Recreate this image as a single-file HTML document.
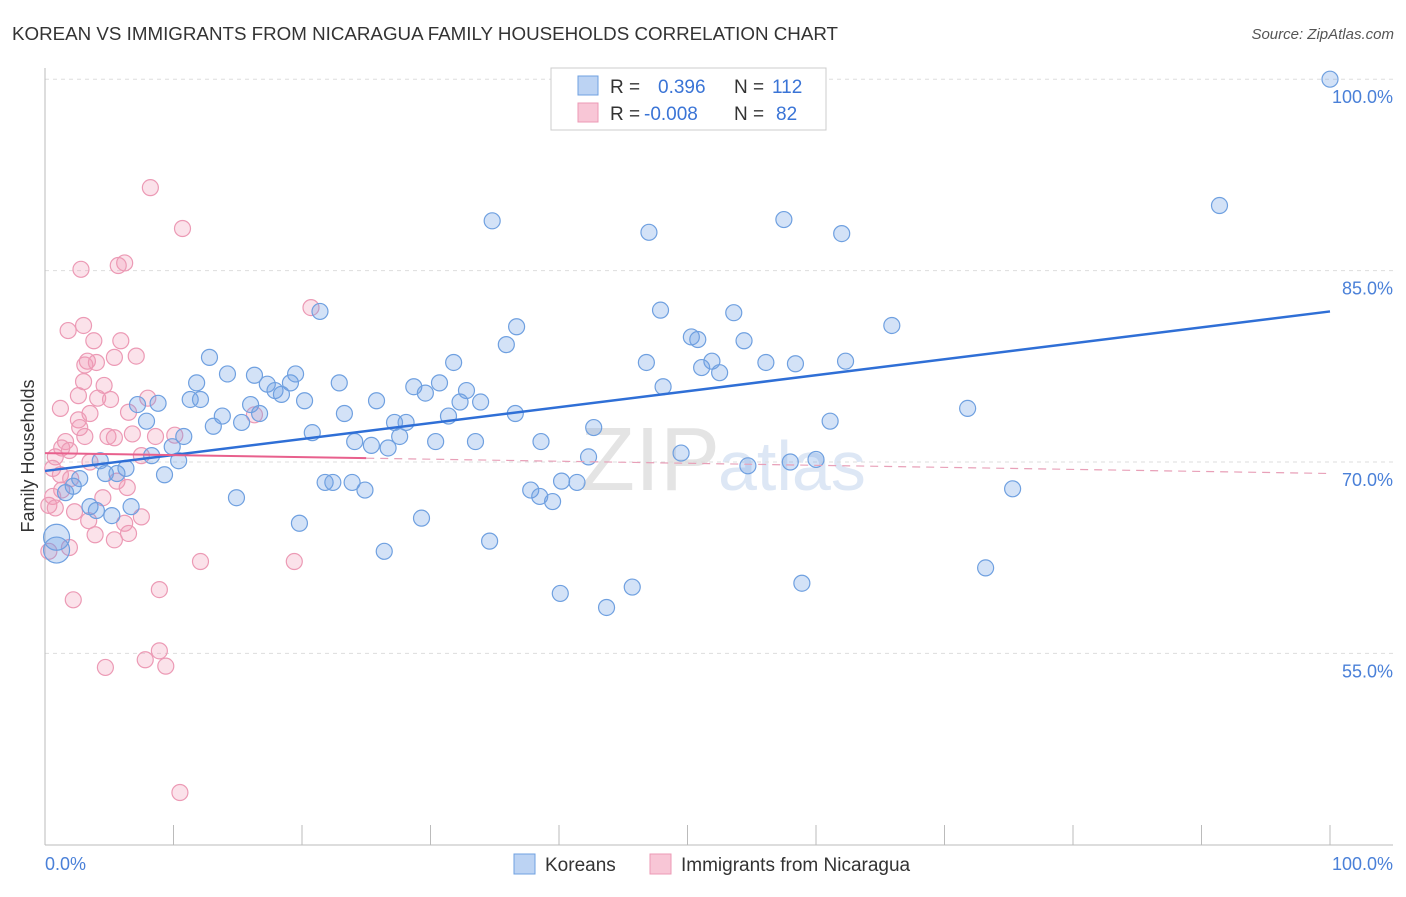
<!DOCTYPE html>
<html><head><meta charset="utf-8"><style>
body{margin:0;background:#fff;font-family:"Liberation Sans",sans-serif;}
svg text{font-family:"Liberation Sans",sans-serif;}
</style></head><body>
<svg width="1406" height="892" viewBox="0 0 1406 892">
<text x="12" y="40" font-size="18" fill="#333" textLength="826" lengthAdjust="spacingAndGlyphs">KOREAN VS IMMIGRANTS FROM NICARAGUA FAMILY HOUSEHOLDS CORRELATION CHART</text>
<text x="1394" y="39" font-size="15" fill="#555" font-style="italic" text-anchor="end">Source: ZipAtlas.com</text>
<text x="580" y="490" font-size="90" fill="#e4e4e4" font-family="Liberation Serif">ZIP</text>
<text x="718" y="490" font-size="70" fill="#dde7f5">atlas</text>
<g id="grid"></g><g id="axes"></g><g id="pts"></g><g id="lines"></g>
<text x="34" y="456" font-size="18" fill="#333" transform="rotate(-90 34 456)" text-anchor="middle">Family Households</text>
<text x="45" y="870" font-size="18" fill="#4a80d8">0.0%</text>
<text x="1393" y="870" font-size="18" fill="#4a80d8" text-anchor="end">100.0%</text>
<g>
<rect x="551" y="68" width="275" height="62" fill="#fff" stroke="#ccc"/>
<rect x="578" y="76" width="20" height="19" fill="#bcd3f3" stroke="#6fa0e0"/>
<rect x="578" y="103" width="20" height="19" fill="#f8c6d6" stroke="#ec9ab5"/>
<text x="610" y="93" font-size="19" fill="#333">R =</text><text x="658" y="93" font-size="19" fill="#3a74d6">0.396</text>
<text x="734" y="93" font-size="19" fill="#333">N =</text><text x="772" y="93" font-size="19" fill="#3a74d6">112</text>
<text x="610" y="120" font-size="19" fill="#333">R =</text><text x="644" y="120" font-size="19" fill="#3a74d6">-0.008</text>
<text x="734" y="120" font-size="19" fill="#333">N =</text><text x="776" y="120" font-size="19" fill="#3a74d6">82</text>
</g>
<g>
<rect x="514" y="854" width="21" height="20" fill="#bcd3f3" stroke="#6fa0e0"/>
<text x="545" y="871" font-size="19" fill="#333">Koreans</text>
<rect x="650" y="854" width="21" height="20" fill="#f8c6d6" stroke="#ec9ab5"/>
<text x="681" y="871" font-size="19" fill="#333">Immigrants from Nicaragua</text>
</g>
</svg>
<script>
const yTicks=[55,70,85,100];
const yTickLabels=["55.0%","70.0%","85.0%","100.0%"];
const xTicks=[0,10,20,30,40,50,60,70,80,90,100];
const koreanX=[100,91.4,34.8,47,57.5,62,21.4,36.7,47.9,65.9,53.6,50.3,50.8,35.9,54.4,12.8,31.8,46.8,51.9,51.1,52.5,56.1,58.4,62.3,14.2,16.3,19.5,11.8,17.3,19.1,22.9,28.7,30.7,48.1,17.9,18.4,32.8,29.6,11.3,12.1,20.2,25.8,32.3,33.9,7.2,8.8,16,13.8,16.7,23.3,31.4,36.6,71.8,7.9,13.1,15.3,27.2,28.1,61.1,42.7,10.8,20.8,27.6,24.1,25.4,26.7,30.4,33.5,38.6,9.9,8.3,10.4,4.3,6.3,4.7,5.6,9.3,42.3,49.5,54.7,58,60,2.7,2.2,1.6,21.8,22.4,23.9,24.9,37.8,38.5,39.5,40.2,41.4,75.3,14.9,3.5,4,5.2,6.7,19.8,29.3,34.6,26.4,0.9,0.9,73.2,58.9,45.7,40.1,43.7];
const koreanY=[100,90.1,88.9,88,89,87.9,81.8,80.6,81.9,80.7,81.7,79.8,79.6,79.2,79.5,78.2,77.8,77.8,77.9,77.4,77,77.8,77.7,77.9,76.9,76.8,76.9,76.2,76.1,76.2,76.2,75.9,76.2,75.9,75.6,75.3,75.6,75.4,74.9,74.9,74.8,74.8,74.7,74.7,74.5,74.6,74.5,73.6,73.8,73.8,73.6,73.8,74.2,73.2,72.8,73.1,73.1,73.1,73.2,72.7,72,72.3,72,71.6,71.3,71.1,71.6,71.6,71.6,71.2,70.5,70.1,70.1,69.5,69.1,69.1,69,70.4,70.7,69.7,70,70.2,68.7,68.1,67.6,68.4,68.4,68.4,67.8,67.8,67.3,66.9,68.5,68.4,67.9,67.2,66.5,66.2,65.8,66.5,65.2,65.6,63.8,63,64.1,63.1,61.7,60.5,60.2,59.7,58.6];
const nicX=[8.2,10.7,2.8,6.2,5.7,20.7,3,1.8,3.8,5.9,3.3,3.1,4,5.4,7.1,3,4.6,2.6,4.1,5.1,8,1.2,3.5,6.5,2.6,16.3,2.7,4.9,5.4,6.8,8.6,10.1,1.6,3.1,1.3,1.9,7.5,0.8,3.5,0.6,1.2,2,5.6,6.4,1.3,0.6,4.5,0.3,0.8,2.3,7.5,3.4,6.2,3.9,6.5,5.4,1.9,0.3,12.1,19.4,8.9,2.2,8.9,7.8,4.7,9.4,10.5];
const nicY=[91.5,88.3,85.1,85.6,85.4,82.1,80.7,80.3,79.5,79.5,77.9,77.6,77.8,78.2,78.3,76.3,76,75.2,75,74.9,75,74.2,73.8,73.9,73.3,73.7,72.7,72,71.9,72.2,72,72.1,71.6,72,71.1,70.9,70.5,70.4,70,69.5,69,68.7,68.5,68,67.8,67.3,67.2,66.6,66.4,66.1,65.7,65.4,65.2,64.3,64.4,63.9,63.3,63,62.2,62.2,60,59.2,55.2,54.5,53.9,54,44.1];
const koreanTrend=[69.3,81.8];
const nicTrend=[70.7,69.1];
const NS="http://www.w3.org/2000/svg";
function sx(v){return 45+v*12.85;}
function sy(v){return 462-(v-70)*12.76;}
function mk(tag,attrs,parent){const e=document.createElementNS(NS,tag);for(const k in attrs)e.setAttribute(k,attrs[k]);document.getElementById(parent).appendChild(e);return e;}
yTicks.forEach((t,i)=>{
 const l=mk('line',{x1:45,x2:1393,y1:sy(t),y2:sy(t),stroke:'#ddd','stroke-dasharray':'4,4'},'grid');
 
 
 const tx=mk('text',{x:1393,y:sy(t)+24,'font-size':18,fill:'#4a80d8','text-anchor':'end'},'grid');
 tx.textContent=yTickLabels[i];
 
 
});
const ax=mk('line',{x1:45,x2:45,y1:68,y2:845,stroke:'#bbb'},'axes');


const bx=mk('line',{x1:45,x2:1393,y1:845,y2:845,stroke:'#bbb'},'axes');


xTicks.forEach(t=>{
 const l=mk('line',{x1:sx(t),x2:sx(t),y1:825,y2:845,stroke:'#bbb'},'axes');
 
 
});
nicX.forEach((x,i)=>{
 const c=mk('circle',{cx:sx(x),cy:sy(nicY[i]),r:8,fill:'rgba(240,150,180,0.28)',stroke:'#ec9ab5','stroke-width':1.2},'pts');
 
 
});
koreanX.forEach((x,i)=>{
 const big=i>=104&&i<=105;
 const c=mk('circle',{cx:sx(x),cy:sy(koreanY[i]),r:big?13:8,fill:'rgba(110,160,230,0.3)',stroke:'#6fa0e0','stroke-width':1.2},'pts');
 
 
});
const kl=mk('line',{x1:sx(0),y1:sy(koreanTrend[0]),x2:sx(100),y2:sy(koreanTrend[1]),stroke:'#2f6fd6','stroke-width':2.5},'lines');


const nyAt=v=>nicTrend[0]+(nicTrend[1]-nicTrend[0])*v/100;
const nl=mk('line',{x1:sx(0),y1:sy(nicTrend[0]),x2:sx(25),y2:sy(nyAt(25)),stroke:'#e8608d','stroke-width':2},'lines');


const nd=mk('line',{x1:sx(25),y1:sy(nyAt(25)),x2:sx(100),y2:sy(nicTrend[1]),stroke:'#e8a0b8','stroke-width':1.2,'stroke-dasharray':'8,6'},'lines');


</script>
</body></html>
